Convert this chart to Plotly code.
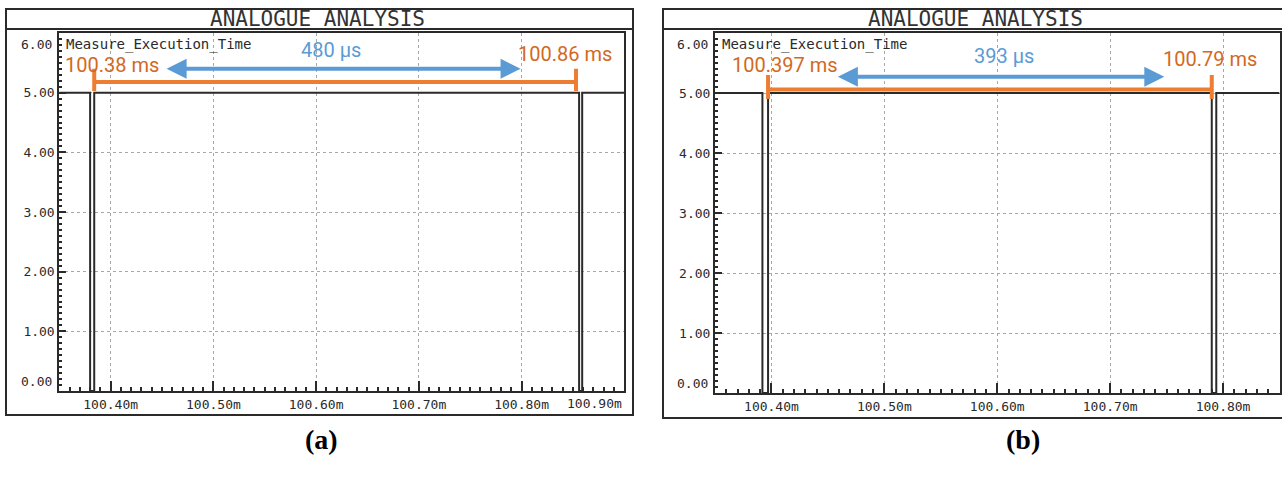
import plotly.graph_objects as go

# ---------------- data (times in ms, levels in V) ----------------
left_edges_ms = [100.350, 100.380, 100.384, 100.856, 100.859, 100.900]
left_levels_v = [5, 0, 5, 0, 5, 5]
right_edges_ms = [100.350, 100.392, 100.397, 100.790, 100.794, 100.850]
right_levels_v = [5, 0, 5, 0, 5, 5]

left_marks_ms = [100.384, 100.853]
right_marks_ms = [100.397, 100.790]
left_arrow_ms = [100.453, 100.799]
right_arrow_ms = [100.4575, 100.748]

left_labels = ["100.38 ms", "100.86 ms", "480 µs"]
right_labels = ["100.397 ms", "100.79 ms", "393 µs"]

left_xticks = [100.40, 100.50, 100.60, 100.70, 100.80]
left_xticktext = ["100.40m", "100.50m", "100.60m", "100.70m", "100.80m"]
right_xticks = [100.40, 100.50, 100.60, 100.70, 100.80]
right_xticktext = ["100.40m", "100.50m", "100.60m", "100.70m", "100.80m"]
yticks = [1, 2, 3, 4, 5]
yticktext = ["1.00", "2.00", "3.00", "4.00", "5.00"]

TITLE = "ANALOGUE ANALYSIS"
SIGNAL = "Measure_Execution_Time"

W, H = 1282, 481
def px(x):
    return x / W
def py(y):
    return 1 - y / H

ORANGE = "#ED7D31"
ORANGE_TXT = "#D2691E"
BLUE = "#5B9BD5"
INK = "#2a2a2a"
MONO = "DejaVu Sans Mono"
LABEL_FONT = "Roboto, sans-serif"

fig = go.Figure()

panels = [
    dict(xa="x", ya="y", edges=left_edges_ms, levels=left_levels_v, marks=left_marks_ms,
         bar_y=5.18, tick_y=(5.03, 5.40), arrow=left_arrow_ms, arrow_y=5.40,
         labels=left_labels, label_pos=[(100.401, 5.47), (100.842, 5.64), (100.614, 5.72)]),
    dict(xa="x2", ya="y2", edges=right_edges_ms, levels=right_levels_v, marks=right_marks_ms,
         bar_y=5.06, tick_y=(4.90, 5.30), arrow=right_arrow_ms, arrow_y=5.27,
         labels=right_labels, label_pos=[(100.4124, 5.47), (100.7885, 5.56), (100.606, 5.62)]),
]

for p in panels:
    fig.add_trace(go.Scatter(x=p["edges"], y=p["levels"], mode="lines", line_shape="hv",
                             line=dict(color=INK, width=2), xaxis=p["xa"], yaxis=p["ya"],
                             showlegend=False, hoverinfo="skip"))
    m0, m1 = p["marks"]
    fig.add_trace(go.Scatter(x=[m0, m1], y=[p["bar_y"], p["bar_y"]], mode="lines",
                             line=dict(color=ORANGE, width=4), xaxis=p["xa"], yaxis=p["ya"],
                             showlegend=False, hoverinfo="skip"))
    t0, t1 = p["tick_y"]
    fig.add_trace(go.Scatter(x=[m0, m0, None, m1, m1], y=[t0, t1, None, t0, t1], mode="lines",
                             line=dict(color=ORANGE, width=4), xaxis=p["xa"], yaxis=p["ya"],
                             showlegend=False, hoverinfo="skip"))
    a0, a1 = p["arrow"]
    fig.add_annotation(x=a1, y=p["arrow_y"], ax=a0, ay=p["arrow_y"], xref=p["xa"], yref=p["ya"],
                       axref=p["xa"], ayref=p["ya"], text="", showarrow=True, arrowhead=2,
                       startarrowhead=2, arrowside="end+start", arrowsize=1, startarrowsize=1,
                       arrowwidth=4, arrowcolor=BLUE, standoff=0, startstandoff=0)
    for i, (txt, (lx, ly)) in enumerate(zip(p["labels"], p["label_pos"])):
        col = BLUE if i == 2 else ORANGE_TXT
        fig.add_annotation(x=lx, y=ly, xref=p["xa"], yref=p["ya"], text=txt, showarrow=False,
                           xanchor="center", yanchor="middle",
                           font=dict(family=LABEL_FONT, size=20, color=col))
    # 6.00 and 0.00 labels inside the range ends
    fig.add_annotation(x=0, y=6, xref=p["xa"] + " domain", yref=p["ya"], text="6.00",
                       showarrow=False, xanchor="right", yanchor="top", xshift=-5, yshift=-2,
                       font=dict(family=MONO, size=13, color=INK))
    fig.add_annotation(x=0, y=0, xref=p["xa"] + " domain", yref=p["ya"], text="0.00",
                       showarrow=False, xanchor="right", yanchor="bottom", xshift=-5, yshift=0,
                       font=dict(family=MONO, size=13, color=INK))
    fig.add_annotation(x=0, y=6, xref=p["xa"] + " domain", yref=p["ya"], text=SIGNAL,
                       showarrow=False, xanchor="left", yanchor="top", xshift=5, yshift=-1,
                       font=dict(family=MONO, size=14, color=INK))

# right-edge tick label of the left panel, pushed inside the frame
fig.add_annotation(x=100.90, y=0, xref="x", yref="y", text="100.90m", showarrow=False,
                   xanchor="right", yanchor="top", yshift=-3,
                   font=dict(family=MONO, size=13, color=INK))

axis_common = dict(showline=True, mirror=True, linecolor=INK, linewidth=2,
                   ticks="inside", tickcolor=INK, tickwidth=1.5,
                   showgrid=True, gridcolor="#a8a8a8", griddash="dot", gridwidth=1,
                   zeroline=False, tickfont=dict(family=MONO, size=13, color=INK))

fig.update_layout(
    width=W, height=H, margin=dict(l=0, r=0, t=0, b=0), autosize=False,
    paper_bgcolor="white", plot_bgcolor="white", showlegend=False,
    xaxis=dict(domain=[px(59.3), px(624.3)], range=[100.35, 100.90], anchor="y",
               tickmode="array", tickvals=left_xticks, ticktext=left_xticktext, ticklen=10,
               minor=dict(tickmode="linear", tick0=100.35, dtick=0.01, ticks="inside",
                          ticklen=4, tickcolor=INK, showgrid=False),
               **axis_common),
    yaxis=dict(domain=[py(391), py(33)], range=[0, 6], anchor="x",
               tickmode="array", tickvals=yticks, ticktext=yticktext, ticklen=7,
               minor=dict(tickmode="linear", tick0=0, dtick=0.1, ticks="inside",
                          ticklen=3, tickcolor=INK, showgrid=False),
               **axis_common),
    xaxis2=dict(domain=[px(715), px(1279.5)], range=[100.35, 100.85], anchor="y2",
                tickmode="array", tickvals=right_xticks, ticktext=right_xticktext, ticklen=10,
                minor=dict(tickmode="linear", tick0=100.35, dtick=0.01, ticks="inside",
                           ticklen=4, tickcolor=INK, showgrid=False),
                **axis_common),
    yaxis2=dict(domain=[py(393), py(33)], range=[0, 6], anchor="x2",
                tickmode="array", tickvals=yticks, ticktext=yticktext, ticklen=7,
                minor=dict(tickmode="linear", tick0=0, dtick=0.1, ticks="inside",
                           ticklen=3, tickcolor=INK, showgrid=False),
                **axis_common),
)

# outer frames, title bars and titles
for (x0, x1, yb, cx, cap, capx) in [(6, 633, 415, 317, "(a)", 321), (663, 1290, 418, 975, "(b)", 1023)]:
    fig.add_shape(type="rect", xref="paper", yref="paper", x0=px(x0), x1=px(x1), y0=py(yb), y1=py(9),
                  line=dict(color=INK, width=2), fillcolor="rgba(0,0,0,0)", layer="below")
    fig.add_shape(type="line", xref="paper", yref="paper", x0=px(x0), x1=px(x1), y0=py(29), y1=py(29),
                  line=dict(color=INK, width=2))
    fig.add_annotation(x=px(cx), y=py(19), xref="paper", yref="paper", text=TITLE, showarrow=False,
                       xanchor="center", yanchor="middle",
                       font=dict(family=MONO, size=21, color="#333333"))
    fig.add_annotation(x=px(capx), y=py(439), xref="paper", yref="paper", text="<b>" + cap + "</b>",
                       showarrow=False, xanchor="center", yanchor="middle",
                       font=dict(family="Liberation Serif", size=28, color="black"))

fig.write_html("out.html")
